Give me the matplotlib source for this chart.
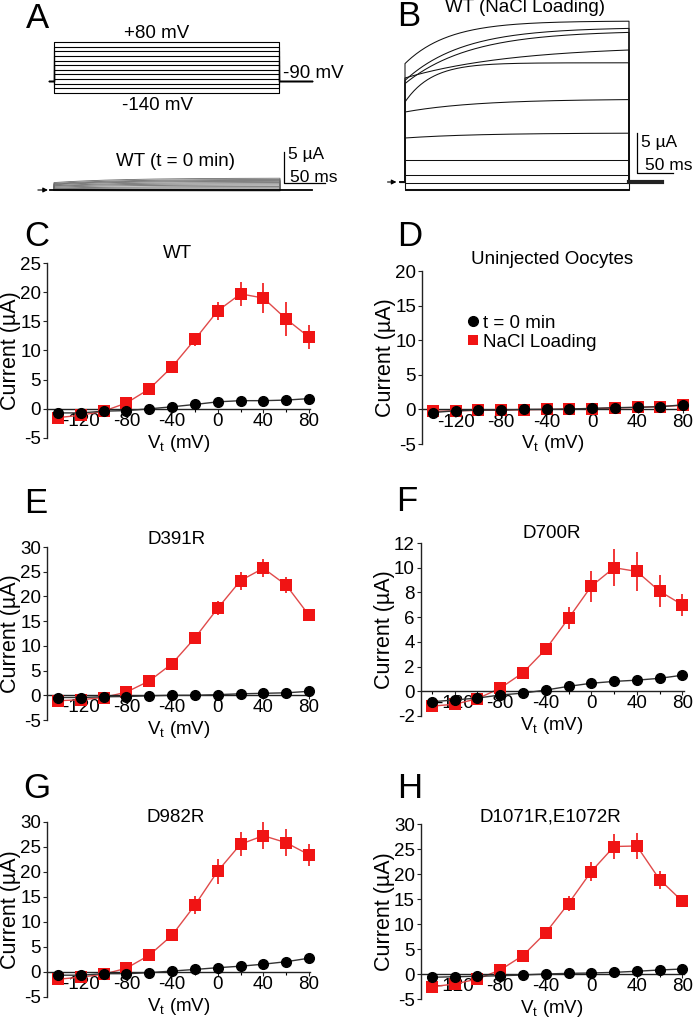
import numpy as np
import matplotlib
matplotlib.use('Agg')
import matplotlib.pyplot as plt
from matplotlib.lines import Line2D

plt.rcParams['font.family'] = ['Liberation Sans', 'DejaVu Sans']
plt.rcParams['mathtext.fontset'] = 'custom'
plt.rcParams['mathtext.rm'] = 'Liberation Sans'
plt.rcParams['mathtext.it'] = 'Liberation Sans:italic'
plt.rcParams['axes.unicode_minus'] = False

W, H = 693, 1021

# ---------------- data ----------------
volt = [-140, -120, -100, -80, -60, -40, -20, 0, 20, 40, 60, 80]
xtick_labels = [-120, -80, -40, 0, 40, 80]

# C  WT
wt_t0 = [-0.7, -0.7, -0.4, -0.3, 0.0, 0.35, 0.75, 1.2, 1.4, 1.4, 1.5, 1.75]
wt_nacl = [-1.5, -1.1, -0.4, 1.0, 3.4, 7.2, 11.9, 16.8, 19.7, 19.0, 15.4, 12.3]
wt_err = [0.3, 0.3, 0.3, 0.3, 0.4, 0.5, 1.1, 1.6, 2.0, 2.5, 2.9, 2.1]
# D  uninjected
un_t0 = [-0.45, -0.2, -0.1, -0.1, 0.0, 0.0, 0.05, 0.15, 0.25, 0.3, 0.4, 0.65]
un_nacl = [-0.3, -0.2, -0.15, -0.1, -0.05, 0.0, 0.05, 0.1, 0.2, 0.3, 0.4, 0.6]
un_err = [0.1] * 12
# E  D391R
e_t0 = [-0.45, -0.45, -0.3, -0.25, -0.1, 0.0, 0.0, 0.13, 0.3, 0.4, 0.5, 0.8]
e_nacl = [-1.1, -0.9, -0.45, 0.65, 2.9, 6.4, 11.6, 17.6, 23.2, 25.7, 22.3, 16.2]
e_err = [0.3, 0.3, 0.3, 0.3, 0.4, 0.5, 0.6, 1.4, 1.8, 1.8, 1.7, 0.5]
# F  D700R
f_t0 = [-0.85, -0.7, -0.55, -0.3, -0.15, 0.1, 0.4, 0.65, 0.8, 0.9, 1.05, 1.3]
f_nacl = [-1.2, -1.05, -0.6, 0.25, 1.5, 3.4, 5.9, 8.5, 10.0, 9.7, 8.1, 7.0]
f_err = [0.2, 0.2, 0.2, 0.2, 0.3, 0.5, 0.9, 1.25, 1.5, 1.6, 1.3, 0.9]
# G  D982R
g_t0 = [-0.7, -0.7, -0.4, -0.4, -0.2, 0.13, 0.45, 0.8, 1.1, 1.5, 2.0, 2.7]
g_nacl = [-1.5, -1.1, -0.5, 0.7, 3.3, 7.3, 13.3, 20.1, 25.5, 27.2, 25.8, 23.4]
g_err = [0.3, 0.3, 0.3, 0.3, 0.4, 1.0, 1.8, 2.5, 2.4, 2.7, 2.7, 2.2]
# H  D1071R,E1072R
h_t0 = [-0.65, -0.55, -0.45, -0.35, -0.2, 0.0, 0.13, 0.2, 0.33, 0.55, 0.8, 1.0]
h_nacl = [-2.55, -2.0, -1.0, 0.8, 3.7, 8.25, 14.1, 20.5, 25.5, 25.6, 18.9, 14.55]
h_err = [0.4, 0.4, 0.4, 0.3, 0.4, 0.5, 1.5, 1.9, 2.5, 2.6, 1.8, 0.5]

# A  voltage protocol and t = 0 traces (uA)
step_mv = [80, 60, 40, 20, 0, -20, -40, -60, -80, -100, -120, -140]
hold_mv = -90
a_start = [1.2, 1.05, 0.95, 0.85, 0.7, 0.6, 0.45, 0.3, 0.2, 0.1, 0.0, -0.1]
a_end = [1.9, 1.7, 1.55, 1.4, 1.2, 1.0, 0.8, 0.55, 0.35, 0.15, 0.0, -0.15]
# B  NaCl loading traces (uA)
b_start = [14.8, 12.7, 12.3, 13.0, 10.0, 8.75, 5.5, 2.8, 0.9, -0.1, -0.9, -1.0]
b_end = [20.1, 19.2, 18.7, 16.5, 14.9, 10.3, 6.1, 2.8, 0.9, -0.1, -0.9, -1.0]
b_tau = [60, 80, 90, 150, 37, 100, 100, 50, 50, 50, 50, 50]

RED = '#f01414'
RED_LINE = '#e04a4a'
FS = 13.5

fig = plt.figure(figsize=(W / 100, H / 100), dpi=100)


def ftext(x, y, s, size=FS, ha='center', va='center', **kw):
    fig.text(x / W, 1 - y / H, s, fontsize=size, ha=ha, va=va, **kw)


def px_axes(l, r, t, b, xa, ya):
    """xa=(d0,p0,d1,p1) data->pixel anchors along x; ya same along y (pixels downward)."""
    ax = fig.add_axes([l / W, 1 - b / H, (r - l) / W, (b - t) / H])
    d0, p0, d1, p1 = xa
    s = (p1 - p0) / (d1 - d0)
    ax.set_xlim(d0 + (l - p0) / s, d0 + (r - p0) / s)
    d0, p0, d1, p1 = ya
    s = (p1 - p0) / (d1 - d0)
    ax.set_ylim(d0 + (b - p0) / s, d0 + (t - p0) / s)
    ax.axis('off')
    return ax


def curve(i0, i1, tau, T):
    t = np.linspace(0, T, 200)
    return t, i0 + (i1 - i0) * (1 - np.exp(-t / tau)) / (1 - np.exp(-T / tau))


# ---------------- Panel A ----------------
TA = 275
axp = px_axes(30, 340, 25, 115, (0, 54, TA, 279), (80, 42, -140, 93))
for v in step_mv:
    axp.plot([-6, 0, 0, TA, TA, TA + 40], [hold_mv, hold_mv, v, v, hold_mv, hold_mv],
             color='k', lw=0.8)
ftext(157, 33, '+80 mV')
ftext(157, 105, '-140 mV')
ftext(283, 73, '-90 mV', ha='left')

axa = px_axes(20, 345, 140, 200, (0, 54, TA, 280), (0, 190, 5, 159))
for i0, i1 in zip(a_start, a_end):
    t, y = curve(i0, i1, 80, TA)
    axa.plot(np.r_[0, t, TA], np.r_[0, y, 0], color='#6a6a6a', lw=0.6)
axa.plot([-5, TA + 39], [0, 0], color='k', lw=1.3)
axa.annotate('', xy=(-4, 0), xytext=(-23, 0),
             arrowprops=dict(arrowstyle='-|>', lw=0.8, color='k', mutation_scale=7))
sbx = 280
axa.plot([sbx, sbx, sbx + 50], [6.13, 1.13, 1.13], color='k', lw=0.9)
ftext(175, 162, 'WT (t = 0 min)')
ftext(288, 155, '5 µA', size=12.5, ha='left')
ftext(290, 177, '50 ms', size=12.5, ha='left')

# ---------------- Panel B ----------------
TB = 310
axb = px_axes(370, 690, 15, 200, (0, 405, TB, 629), (0, 182, 5, 142))
for i0, i1, tau in zip(b_start, b_end, b_tau):
    t, y = curve(i0, i1, tau, TB)
    axb.plot(np.r_[-7, 0, t, TB], np.r_[0, 0, y, 0], color='#111111', lw=0.75)
axb.plot([TB, TB + 46], [0, 0], color='#222222', lw=3)
axb.annotate('', xy=(-8, 0), xytext=(-28, 0),
             arrowprops=dict(arrowstyle='-|>', lw=0.8, color='k', mutation_scale=7))
sbx = 321
axb.plot([sbx, sbx, sbx + 50], [6.125, 1.125, 1.125], color='k', lw=0.9)
ftext(525, 8, 'WT (NaCl Loading)')
ftext(641, 142, '5 µA', size=12.5, ha='left')
ftext(645, 165, '50 ms', size=12.5, ha='left')


# ---------------- IV panels ----------------
def iv_panel(box, ylim, yticks, t0, nacl, err, title, tpos):
    l, r, t, b = box
    ax = fig.add_axes([l / W, 1 - b / H, (r - l) / W, (b - t) / H])
    ax.set_xlim(-150, 81)
    ax.set_ylim(*ylim)
    for s in ['top', 'right']:
        ax.spines[s].set_visible(False)
    ax.spines['bottom'].set_position(('data', 0))
    for s in ['bottom', 'left']:
        ax.spines[s].set_linewidth(1.0)
        ax.spines[s].set_color('#222222')
    ax.set_xticks(xtick_labels)
    ax.set_xticks(volt[::2], minor=True)
    ax.set_yticks(yticks)
    ax.tick_params(axis='both', which='major', direction='out', length=3, width=0.8,
                   labelsize=FS, color='#222222')
    ax.tick_params(axis='x', which='major', pad=0)
    ax.tick_params(axis='y', which='major', pad=1)
    ax.tick_params(axis='x', which='minor', direction='out', length=2, width=0.8)
    ax.patch.set_alpha(0)
    ax.errorbar(volt, nacl, yerr=err, fmt='s', color=RED, ms=8, mew=0,
                ecolor=RED, elinewidth=1.2, capsize=4, capthick=1.2, clip_on=False, zorder=3)
    ax.plot(volt, nacl, color=RED_LINE, lw=1.0, zorder=2, clip_on=False)
    ax.plot(volt, t0, color='#333333', lw=1.0, zorder=4, clip_on=False)
    ax.plot(volt, t0, 'o', color='k', ms=7, zorder=5, clip_on=False)
    ax.set_xlabel(r'V$_\mathrm{t}$ (mV)', fontsize=FS, labelpad=2)
    ax.set_ylabel('Current (µA)', fontsize=15.5)
    ax.yaxis.set_label_coords(-25.3 / (r - l), 0.5)
    ftext(tpos[0], tpos[1], title)
    return ax


iv_panel((46.6, 310.1, 263, 438), (-5, 25), range(-5, 26, 5), wt_t0, wt_nacl, wt_err,
         'WT', (177, 253))
axD = iv_panel((421.6, 684.1, 271, 444), (-5, 20), range(-5, 21, 5), un_t0, un_nacl, un_err,
               'Uninjected Oocytes', (552, 260))
iv_panel((46.6, 310.1, 547, 720), (-5, 30), range(-5, 31, 5), e_t0, e_nacl, e_err,
         'D391R', (177, 539))
iv_panel((420.5, 683.5, 543, 716), (-2, 12), range(-2, 13, 2), f_t0, f_nacl, f_err,
         'D700R', (552, 533))
iv_panel((46.6, 310.1, 821.7, 996.7), (-5, 30), range(-5, 31, 5), g_t0, g_nacl, g_err,
         'D982R', (176, 817))
iv_panel((420.5, 683.5, 824, 999), (-5, 30), range(-5, 31, 5), h_t0, h_nacl, h_err,
         'D1071R,E1072R', (550, 817))

handles = [Line2D([], [], marker='o', color='k', ls='none', ms=7),
           Line2D([], [], marker='s', color=RED, ls='none', ms=7, mew=0)]
axD.legend(handles, ['t = 0 min', 'NaCl Loading'], loc='center left',
           bbox_to_anchor=(465 / W, 1 - 332.5 / H), bbox_transform=fig.transFigure,
           frameon=False, fontsize=FS, handlelength=0.8, handletextpad=0.15,
           labelspacing=0.1, borderpad=0, borderaxespad=0)

# panel letters
for letter, (x, y) in zip('ABCDEFGH', [(38, 18), (409, 17), (37, 236), (410, 236),
                                       (36, 503), (407, 501), (37, 788), (410, 788)]):
    ftext(x, y, letter, size=25)

fig.savefig('out.png', dpi=100)
